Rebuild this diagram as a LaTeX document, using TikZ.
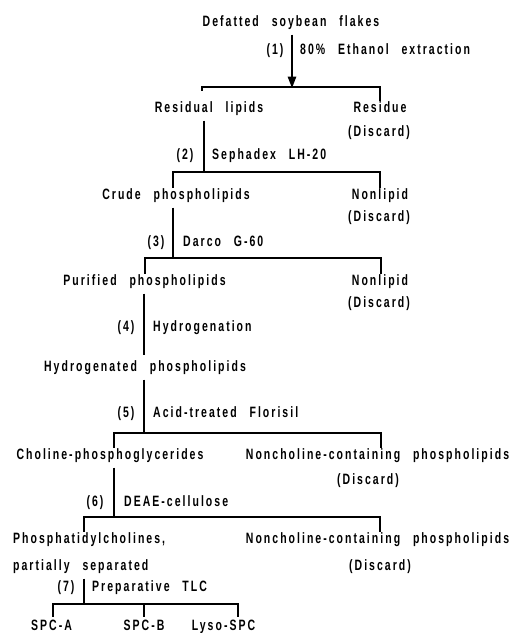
\documentclass[tikz,border=0pt]{standalone}
\usepackage{fontspec}
\setmainfont{Liberation Sans}[FakeStretch=0.7,LetterSpace=13.5,WordSpace=2.6]
\usetikzlibrary{arrows.meta}
\begin{document}
\begin{tikzpicture}[x=1pt,y=-1pt,
  lab/.style={inner sep=0pt,outer ysep=5.5pt,text height=11pt,text depth=3pt,font=\fontsize{15}{17}\selectfont\bfseries},
  line/.style={line width=2.7pt},
  bar/.style={line width=2.7pt,line cap=butt,line join=miter}]
\useasboundingbox (0,0) rectangle (519,633);
% nodes
\node[lab] (top) at (291,22) {Defatted soybean flakes};
\node[lab] (n1) at (275,50) {(1)};
\node[lab,anchor=west] (s1) at (300,50) {80\% Ethanol extraction};
\node[lab] (resl) at (209,108) {Residual lipids};
\node[lab] (resd) at (380,108) {Residue};
\node[lab] (dis1) at (379,132) {(Discard)};
\node[lab] (n2) at (185,155) {(2)};
\node[lab,anchor=west] (s2) at (212,155) {Sephadex LH-20};
\node[lab] (crude) at (176,195) {Crude phospholipids};
\node[lab] (nl1) at (380,195) {Nonlipid};
\node[lab] (dis2) at (379,217) {(Discard)};
\node[lab] (n3) at (156,242) {(3)};
\node[lab,anchor=west] (s3) at (183,242) {Darco G-60};
\node[lab] (pur) at (144.5,281) {Purified phospholipids};
\node[lab] (nl2) at (380,281) {Nonlipid};
\node[lab] (dis3) at (379,303) {(Discard)};
\node[lab] (n4) at (126,327) {(4)};
\node[lab,anchor=west] (s4) at (153,327) {Hydrogenation};
\node[lab] (hyd) at (145,367) {Hydrogenated phospholipids};
\node[lab] (n5) at (126,413) {(5)};
\node[lab,anchor=west] (s5) at (153,413) {Acid-treated Florisil};
\node[lab] (chol) at (110,455) {Choline-phosphoglycerides};
\node[lab] (nc1) at (377.5,455) {Noncholine-containing phospholipids};
\node[lab] (dis4) at (368,480) {(Discard)};
\node[lab] (n6) at (95,502) {(6)};
\node[lab,anchor=west] (s6) at (124,502) {DEAE-cellulose};
\node[lab,anchor=west] (pc1) at (13,539) {Phosphatidylcholines,};
\node[lab,anchor=west] (pc2) at (13,566) {partially separated};
\node[lab] (nc2) at (377.5,539) {Noncholine-containing phospholipids};
\node[lab] (dis5) at (380,566) {(Discard)};
\node[lab] (n7) at (66,587) {(7)};
\node[lab,anchor=west] (s7) at (92,587) {Preparative TLC};
\node[lab] (spca) at (51.5,626) {SPC-A};
\node[lab] (spcb) at (144,626) {SPC-B};
\node[lab] (lyso) at (223.5,626) {Lyso-SPC};
% junctions
\coordinate (j1) at (292,87);
\coordinate (j2) at (204,172);
\coordinate (j3) at (173,258);
\coordinate (j4) at (144,433);
\coordinate (j5) at (114,517);
\coordinate (j6) at (84,604);
% connectors
\draw[line,-{Triangle[length=12pt,width=8pt]}] (top.south -| j1) -- ([yshift=-1.5pt]j1);
\draw[bar] (resl.north -| 202,0) ++(0,-5) |- (j1) -| ([yshift=-5pt]resd.north);
\draw[line] (resl.south -| j2) -- (j2);
\draw[bar] ([yshift=-5pt]crude.north -| j3) |- (j2) -| ([yshift=-5pt]nl1.north);
\draw[line] (crude.south -| j3) -- (j3);
\draw[bar] ([yshift=-5pt]pur.north -| 145,0) |- (j3) -| ([yshift=-5pt]nl2.north -| 381,0);
\draw[line] (pur.south -| 144,0) -- (hyd.north -| 144,0);
\draw[line] (hyd.south -| j4) -- (j4);
\draw[bar] ([yshift=-5pt]chol.north -| j4) ++(-30,0) |- (j4) -| ([yshift=-5pt]nc1.north -| 381,0);
\draw[line] (chol.south -| j5) -- (j5);
\draw[bar] ([yshift=-5pt]pc1.north -| j6) |- (j5) -| ([yshift=-5pt]nc2.north -| 380,0);
\draw[line] (pc2.south -| j6) -- (j6);
\draw[bar] ([yshift=-3pt]spca.north -| 53,0) |- (j6) -| ([yshift=-3pt]lyso.north -| 238,0);
\draw[bar] (j6 -| spcb) -- ([yshift=-3pt]spcb.north);
\end{tikzpicture}
\end{document}
